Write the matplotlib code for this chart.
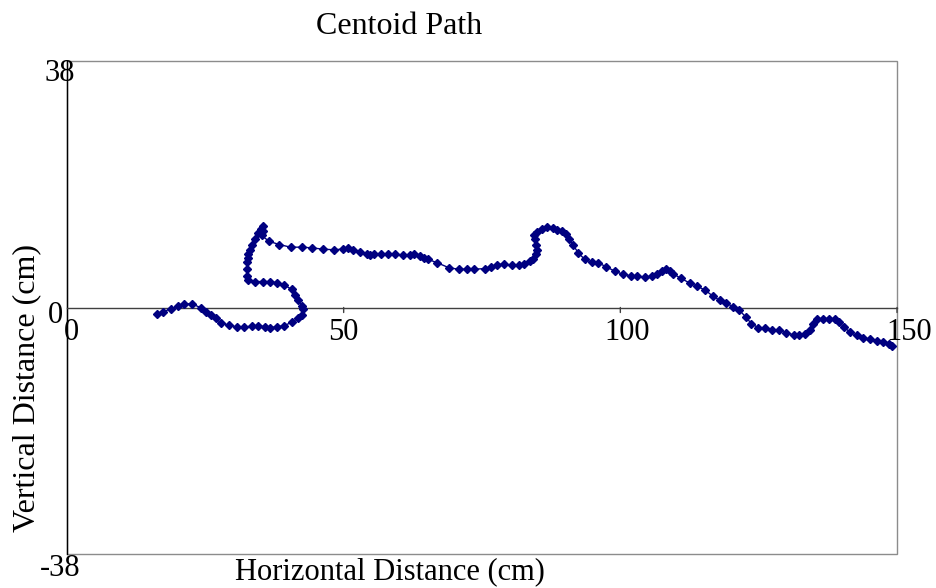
import matplotlib
matplotlib.use("Agg")
import matplotlib.pyplot as plt
from matplotlib.patches import Rectangle

# Centroid path (cm)
x_cm = [16.2, 17.3, 18.8, 20.1, 21.2, 22.6, 24.2, 25.2, 26.0, 26.9, 27.8, 29.2, 30.7,
        32.0, 33.4, 34.6, 35.8, 36.7, 37.9, 39.2, 40.6, 41.8, 42.4, 42.6, 42.4, 41.8,
        41.2, 40.6, 39.2, 37.9, 36.7, 35.4, 34.0, 32.8, 32.6, 32.6, 32.6, 32.7, 32.8,
        33.1, 33.5, 34.0, 34.6, 35.0, 35.5, 35.4, 35.2, 36.5, 38.4, 40.4, 42.4, 44.2,
        46.2, 48.2, 49.8, 50.8, 51.7, 53.0, 54.2, 54.8, 55.5, 56.7, 58.1, 59.3, 60.7,
        61.9, 62.7, 63.8, 64.5, 65.3, 66.9, 69.1, 70.9, 72.2, 73.6, 75.5, 76.7, 77.8,
        79.0, 80.4, 81.6, 82.6, 83.6, 84.3, 84.8, 84.9, 84.8, 84.6, 84.4, 84.9, 85.8,
        86.7, 87.8, 88.6, 89.4, 90.1, 90.8, 91.5, 92.4, 93.6, 94.8, 96.0, 97.4, 99.0,
        100.5, 101.9, 103.1, 104.5, 105.7, 106.6, 107.5, 108.2, 109.0, 109.6, 110.9,
        112.5, 113.8, 115.3, 116.8, 118.0, 119.1, 120.4, 121.5, 122.7, 123.7, 124.9,
        126.2, 127.4, 128.7, 129.9, 131.3, 132.2, 133.4, 134.3, 134.9, 135.5, 136.6,
        137.8, 138.8, 139.6, 140.4, 141.5, 142.7, 143.9, 145.1, 146.3, 147.5, 148.6, 149.1]
y_cm = [-1.0, -0.66, -0.2, 0.2, 0.57, 0.57, -0.05, -0.66, -1.08, -1.6, -2.4, -2.7, -3.0,
        -3.0, -2.9, -2.8, -3.0, -3.1, -3.0, -2.8, -2.3, -1.6, -1.1, -0.3, 0.3, 1.2,
        2.0, 2.8, 3.5, 3.8, 4.0, 4.0, 4.0, 4.2, 4.8, 5.9, 7.0, 7.6, 8.2,
        8.9, 9.7, 10.6, 11.5, 12.1, 12.5, 11.8, 11.1, 10.2, 9.7, 9.3, 9.3, 9.2,
        9.0, 8.9, 9.0, 9.1, 8.8, 8.6, 8.3, 8.1, 8.3, 8.3, 8.3, 8.2, 8.1,
        8.1, 8.2, 7.9, 7.7, 7.4, 6.9, 6.1, 5.9, 5.9, 5.9, 6.0, 6.2, 6.6,
        6.7, 6.5, 6.5, 6.7, 7.1, 7.5, 8.2, 8.9, 9.7, 10.5, 11.1, 11.6, 12.1,
        12.4, 12.2, 12.0, 11.8, 11.3, 10.6, 9.6, 8.4, 7.4, 7.0, 6.9, 6.3, 5.6,
        5.1, 4.9, 4.8, 4.7, 4.8, 5.1, 5.6, 6.0, 5.6, 5.2, 4.5,
        3.8, 3.3, 2.7, 1.7, 1.1, 0.7, 0.1, -0.4, -1.5, -2.5, -3.1,
        -3.2, -3.4, -3.5, -3.9, -4.2, -4.3, -4.1, -3.4, -2.5, -1.8, -1.7,
        -1.7, -1.8, -2.3, -3.0, -3.8, -4.3, -4.7, -4.9, -5.1, -5.3, -5.7, -6.0]

x_ticks = [0, 50, 100, 150]
x_tick_labels = ["0", "50", "100", "150"]
y_ticks = [38, 0, -38]
y_tick_labels = ["38", "0", "-38"]

plt.rcParams['font.family'] = ['Liberation Serif', 'DejaVu Serif']

fig = plt.figure(figsize=(9.37, 5.88), dpi=100)
ax = fig.add_axes([67 / 937, 34 / 588, 830 / 937, 493 / 588])
ax.set_xlim(0, 150)
ax.set_ylim(-38, 38)

# gray frame, black y axis at x=0, dark x axis at y=0
for s in ax.spines.values():
    s.set_visible(False)
ax.add_patch(Rectangle((0, 0), 1, 1, transform=ax.transAxes, fill=False,
                       edgecolor='#8c8c8c', lw=1.0, zorder=1, clip_on=False))
ax.axvline(0, color='black', lw=1.0, zorder=2, clip_on=False)
ax.axhline(0, color='#404040', lw=1.0, zorder=2, clip_on=False)

ax.set_xticks([])
ax.set_yticks([])
# x tick marks below the y=0 axis
for xv in x_ticks[1:]:
    ax.annotate('', xy=(xv, 0), xytext=(0, -5), textcoords='offset pixels',
                arrowprops=dict(arrowstyle='-', color='#404040', lw=1.0,
                                shrinkA=0, shrinkB=0))

ax.plot(x_cm, y_cm, color='#000080', lw=1.0, marker='D', markersize=4.4,
        markeredgecolor='#000080', markerfacecolor='#000080', zorder=3,
        clip_on=False)

# tick labels placed where the reference has them
x_offsets = [(4, -10), (0, -10), (7, -10), (12, -10)]
for xv, lab, off in zip(x_ticks, x_tick_labels, x_offsets):
    ax.annotate(lab, xy=(xv, 0), xytext=off, textcoords='offset pixels',
                ha='center', va='top', fontsize=22, annotation_clip=False)
y_offsets = [(-7, 2), (-12, -8), (-7, 0)]
y_va = ['top', 'center', 'top']
for yv, lab, off, va in zip(y_ticks, y_tick_labels, y_offsets, y_va):
    ax.annotate(lab, xy=(0, yv), xytext=off, textcoords='offset pixels',
                ha='center', va=va, fontsize=22, annotation_clip=False)

fig.text(399 / 937, 1 - 27 / 588, 'Centoid Path', ha='center', va='center',
         fontsize=23)
fig.text(390 / 937, 1 - 572 / 588, 'Horizontal Distance (cm)', ha='center',
         va='center', fontsize=22)
fig.text(27 / 937, 1 - 388 / 588, 'Vertical Distance (cm)', ha='center',
         va='center', rotation=90, fontsize=23)

fig.savefig('out.png', dpi=100)
